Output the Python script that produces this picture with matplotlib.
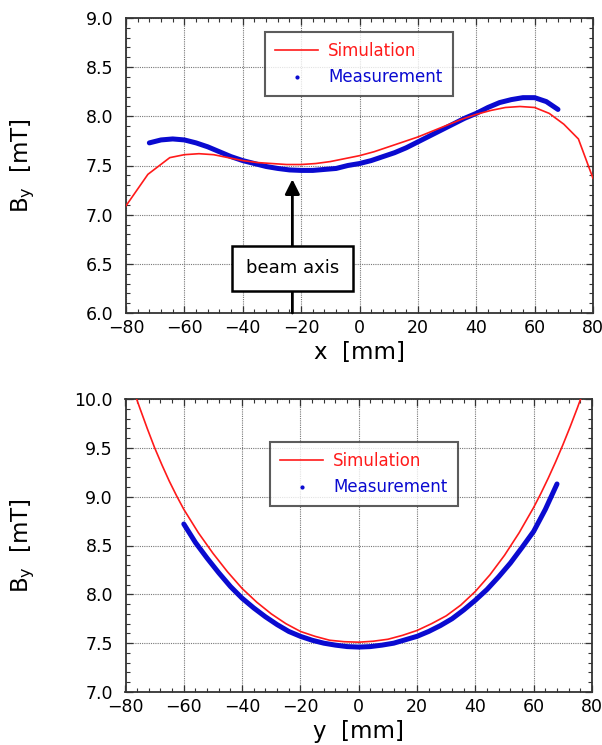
import numpy as np
import matplotlib
matplotlib.use("Agg")
import matplotlib.pyplot as plt
from matplotlib.lines import Line2D
from matplotlib.ticker import MultipleLocator, FormatStrFormatter

# horizontal scan (x), simulation
sim_x_pos = [-80, -72.5, -65, -60, -55, -50, -45, -40, -35, -30, -25, -20, -15, -10, -5, 0,
             5, 10, 15, 20, 25, 30, 35, 40, 45, 50, 55, 60, 65, 70, 75, 80]
sim_x_by = [7.09, 7.41, 7.58, 7.61, 7.62, 7.61, 7.58, 7.55, 7.53, 7.52, 7.51, 7.51, 7.52, 7.54, 7.57, 7.60,
            7.64, 7.69, 7.74, 7.79, 7.85, 7.91, 7.97, 8.02, 8.06, 8.09, 8.10, 8.09, 8.03, 7.92, 7.77, 7.37]

# horizontal scan (x), measurement
meas_x_pos = [-72, -68, -64, -60, -56, -52, -48, -44, -40, -36, -32, -28, -24, -20, -16, -12, -8, -4,
              0, 4, 8, 12, 16, 20, 24, 28, 32, 36, 40, 44, 48, 52, 56, 60, 64, 68]
meas_x_by = [7.73, 7.76, 7.77, 7.76, 7.73, 7.69, 7.64, 7.59, 7.55, 7.52, 7.49, 7.47, 7.455, 7.45, 7.45,
             7.46, 7.47, 7.50, 7.52, 7.55, 7.59, 7.63, 7.68, 7.74, 7.80, 7.86, 7.92, 7.98, 8.03, 8.09,
             8.14, 8.17, 8.19, 8.19, 8.15, 8.07]

# vertical scan (y), simulation
sim_y_pos = [-80, -77.5, -75, -72.5, -70, -67.5, -65, -62.5, -60, -55, -50, -45, -40, -35, -30, -25, -20,
             -15, -10, -5, 0, 5, 10, 15, 20, 25, 30, 35, 40, 45, 50, 55, 60, 62.5, 65, 67.5, 70, 72.5,
             75, 77.5, 80]
sim_y_by = [10.33, 10.11, 9.90, 9.695, 9.50, 9.325, 9.16, 9.01, 8.87, 8.63, 8.42, 8.23, 8.06, 7.92, 7.80,
            7.70, 7.62, 7.57, 7.53, 7.515, 7.51, 7.52, 7.54, 7.58, 7.63, 7.70, 7.78, 7.89, 8.03, 8.20,
            8.40, 8.63, 8.89, 9.035, 9.19, 9.355, 9.53, 9.715, 9.91, 10.115, 10.33]

# vertical scan (y), measurement
meas_y_pos = [-60, -56, -52, -48, -44, -40, -36, -32, -28, -24, -20, -16, -12, -8, -4, 0,
              4, 8, 12, 16, 20, 24, 28, 32, 36, 40, 44, 48, 52, 56, 60, 64, 68]
meas_y_by = [8.72, 8.53, 8.37, 8.22, 8.08, 7.96, 7.86, 7.77, 7.69, 7.62, 7.57, 7.53, 7.50, 7.48, 7.465,
             7.46, 7.465, 7.48, 7.50, 7.535, 7.57, 7.62, 7.68, 7.75, 7.84, 7.94, 8.05, 8.18, 8.32, 8.48,
             8.645, 8.87, 9.13]

RED = "#ff1a1a"
BLUE = "#0a0ad0"

plt.rcParams['font.family'] = ['DejaVu Sans']

fig = plt.figure(figsize=(6.02, 7.45), dpi=100)
ax1 = fig.add_axes([126 / 602, 1 - 313 / 745, 467 / 602, 295 / 745])
ax2 = fig.add_axes([125.5 / 602, 1 - 692 / 745, 466.5 / 602, 293 / 745])


def style_axes(ax, ylo, yhi, xlabel):
    ax.set_xlim(-80, 80)
    ax.set_ylim(ylo, yhi)
    ax.xaxis.set_major_locator(MultipleLocator(20))
    ax.xaxis.set_minor_locator(MultipleLocator(4))
    ax.yaxis.set_major_locator(MultipleLocator(0.5))
    ax.yaxis.set_minor_locator(MultipleLocator(0.1))
    ax.yaxis.set_major_formatter(FormatStrFormatter('%.1f'))
    ax.tick_params(which='both', direction='in', top=True, right=True, color='#333333')
    ax.tick_params(which='major', length=5, width=0.9, labelsize=12.5, pad=4)
    ax.tick_params(which='minor', length=3, width=0.8)
    ax.tick_params(axis='y', which='major', pad=9)
    for s in ax.spines.values():
        s.set_linewidth(1.3)
        s.set_color('#333333')
    ax.grid(True, which='major', color='#777777', linestyle=(0, (1, 1)), linewidth=0.8)
    ax.set_axisbelow(True)
    ax.set_xlabel(xlabel, fontsize=16.5)
    ax.set_ylabel(r'B$_\mathrm{y}$  [mT]', fontsize=16.5)
    ax.xaxis.set_label_coords(0.5, -0.095)
    ax.yaxis.set_label_coords(-0.19, 0.5)


def add_legend(ax, anchor):
    handles = [Line2D([], [], color=RED, lw=1.2),
               Line2D([], [], color=BLUE, marker='.', ls='none', ms=4)]
    leg = ax.legend(handles, ['Simulation', 'Measurement'], loc='upper left', bbox_to_anchor=anchor,
                    borderaxespad=0, fontsize=12, frameon=True, fancybox=False, handlelength=2.6,
                    handletextpad=0.6, labelspacing=0.5, borderpad=0.6)
    leg.get_frame().set_edgecolor('#333333')
    leg.get_frame().set_linewidth(1.5)
    for t, c in zip(leg.get_texts(), [RED, BLUE]):
        t.set_color(c)


# top: x scan
ax1.plot(meas_x_pos, meas_x_by, color=BLUE, lw=3.6, solid_capstyle='round', zorder=3)
ax1.plot(sim_x_pos, sim_x_by, color=RED, lw=1.2, zorder=4)
style_axes(ax1, 6.0, 9.0, 'x  [mm]')
add_legend(ax1, (0.2976, 0.9525))

ax1.annotate('', xy=(-23, 7.36), xytext=(-23, 6.0),
             arrowprops=dict(arrowstyle='-|>', color='black', lw=2, mutation_scale=22, shrinkA=0, shrinkB=0),
             zorder=5)
ax1.text(-23, 6.455, 'beam axis', ha='center', va='center', fontsize=13, zorder=6,
         bbox=dict(boxstyle='square,pad=0.75', facecolor='white', edgecolor='black', linewidth=1.8))

# bottom: y scan
ax2.plot(meas_y_pos, meas_y_by, color=BLUE, lw=3.6, solid_capstyle='round', zorder=3)
ax2.plot(sim_y_pos, sim_y_by, color=RED, lw=1.2, zorder=4)
style_axes(ax2, 7.0, 10.0, 'y  [mm]')
add_legend(ax2, (0.3098, 0.853))

fig.savefig('out.png', dpi=100)
